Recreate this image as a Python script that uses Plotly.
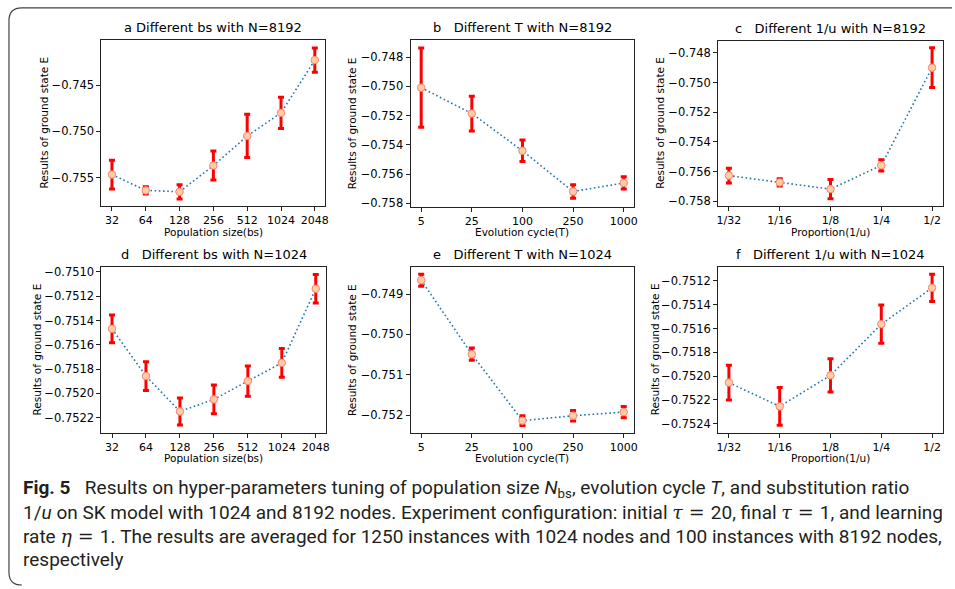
import plotly.graph_objects as go

W, H = 955, 589

# ---------------- data ----------------
bs_labels = ["32", "64", "128", "256", "512", "1024", "2048"]
T_labels = ["5", "25", "100", "250", "1000"]
u_labels = ["1/32", "1/16", "1/8", "1/4", "1/2"]

a_vals = [-0.75468, -0.75639, -0.75654, -0.75371, -0.75050, -0.74800, -0.74229]
a_err = [0.00155, 0.00040, 0.00077, 0.00157, 0.00234, 0.00170, 0.00130]

b_vals = [-0.75009, -0.75186, -0.75441, -0.75720, -0.75661]
b_err = [0.00271, 0.00119, 0.00074, 0.00046, 0.00042]

c_vals = [-0.75627, -0.75673, -0.75718, -0.75558, -0.74900]
c_err = [0.00049, 0.00024, 0.00065, 0.00038, 0.00134]

d_vals = [-0.751468, -0.751857, -0.752148, -0.752049, -0.751898, -0.751748, -0.751138]
d_err = [0.000114, 0.000119, 0.000111, 0.000119, 0.000125, 0.000119, 0.000118]

e_vals = [-0.748656, -0.750492, -0.752139, -0.752016, -0.751926]
e_err = [0.000148, 0.000152, 0.000120, 0.000130, 0.000140]

f_vals = [-0.752055, -0.752255, -0.751994, -0.751564, -0.751258]
f_err = [0.000147, 0.000158, 0.000140, 0.000161, 0.000114]

titles = ["a Different bs with N=8192",
          "b\u00a0\u00a0 Different T with N=8192",
          "c\u00a0\u00a0 Different 1/u with N=8192",
          "d\u00a0\u00a0 Different bs with N=1024",
          "e\u00a0\u00a0 Different T with N=1024",
          "f\u00a0\u00a0 Different 1/u with N=1024"]
xtitles = ["Population size(bs)", "Evolution cycle(T)", "Proportion(1/u)"]
ytitle = "Results of ground state E"

MATH = "<span style=\"font-family:'DejaVu Serif'\">"
caption_lines = [
    "<b>Fig. 5</b>\u2002 Results on hyper-parameters tuning of population size <i>N</i><sub>bs</sub>, evolution cycle <i>T</i>, and substitution ratio",
    "1/<i>u</i> on SK model with 1024 and 8192 nodes. Experiment configuration: initial " + MATH + "<i>\u03c4</i> = </span>20, final " + MATH + "<i>\u03c4</i> = </span>1, and learning",
    "rate " + MATH + "<i>\u03b7</i> = </span>1. The results are averaged for 1250 instances with 1024 nodes and 100 instances with 8192 nodes,",
    "respectively",
]

# ---------------- layout helpers ----------------
def px(x):
    return x / W

def py(y):
    return 1 - y / H

panels = [
    dict(x=bs_labels, y=a_vals, e=a_err, xd=(100, 325), yd=(38, 206), yr=(-0.75807, -0.74007), dt=0.005, fmt=".3f", ylab=42, xt=0),
    dict(x=T_labels, y=b_vals, e=b_err, xd=(410.7, 635.7), yd=(38, 206.7), yr=(-0.75823, -0.7468), dt=0.002, fmt=".3f", ylab=352, xt=1),
    dict(x=u_labels, y=c_vals, e=c_err, xd=(720, 945.7), yd=(39, 206), yr=(-0.75831, -0.74718), dt=0.002, fmt=".3f", ylab=662, xt=2),
    dict(x=bs_labels, y=d_vals, e=d_err, xd=(100, 326), yd=(267.5, 435), yr=(-0.752322, -0.750957), dt=0.0002, fmt=".4f", ylab=35, xt=0),
    dict(x=T_labels, y=e_vals, e=e_err, xd=(410.7, 635.7), yd=(268, 435), yr=(-0.752434, -0.748336), dt=0.001, fmt=".3f", ylab=352, xt=1),
    dict(x=u_labels, y=f_vals, e=f_err, xd=(720, 945.7), yd=(267.5, 435), yr=(-0.752475, -0.751081), dt=0.0002, fmt=".4f", ylab=656, xt=2),
]

fig = go.Figure()
font_main = "DejaVu Sans"
tick_font = dict(family=font_main, size=11, color="#000")
ytick_font = dict(family=font_main, size=11.5, color="#000")
annotations = []

for i, p in enumerate(panels):
    k = "" if i == 0 else str(i + 1)
    n = len(p["x"])
    fig.add_trace(go.Scatter(
        x=p["x"], y=p["y"], xaxis="x" + k, yaxis="y" + k,
        mode="lines+markers",
        line=dict(color="#1f77b4", width=1.6, dash="1.6px,2.6px"),
        marker=dict(size=7.5, color="rgb(255,204,164)", line=dict(color="rgb(245,135,115)", width=1)),
        error_y=dict(type="data", array=p["e"], visible=True, color="#ff0000", thickness=3, width=3),
        showlegend=False, hoverinfo="skip",
    ))
    pad = 0.05 * (n - 1) + 0.01
    fig.layout["xaxis" + k] = dict(
        domain=[px(p["xd"][0]), px(p["xd"][1])], anchor="y" + k,
        type="category", range=[-pad, n - 1 + pad],
        showline=True, mirror=True, linecolor="#222", linewidth=1,
        ticks="outside", ticklen=4, tickcolor="#222", tickfont=tick_font,
        showgrid=False, zeroline=False, fixedrange=True,
    )
    fig.layout["yaxis" + k] = dict(
        domain=[py(p["yd"][1]), py(p["yd"][0])], anchor="x" + k,
        range=list(p["yr"]), dtick=p["dt"], tick0=0, tickformat=p["fmt"],
        showline=True, mirror=True, linecolor="#222", linewidth=1,
        ticks="outside", ticklen=4, tickcolor="#222", tickfont=ytick_font,
        showgrid=False, zeroline=False, fixedrange=True,
    )
    xc = px((p["xd"][0] + p["xd"][1]) / 2)
    annotations.append(dict(text=titles[i], x=xc, y=py(p["yd"][0] - 3), xref="paper", yref="paper",
                            xanchor="center", yanchor="bottom", showarrow=False,
                            font=dict(family=font_main, size=13, color="#000")))
    annotations.append(dict(text=xtitles[p["xt"]], x=xc, y=py(p["yd"][1] + 26), xref="paper", yref="paper",
                            xanchor="center", yanchor="middle", showarrow=False,
                            font=dict(family=font_main, size=10.5, color="#000")))
    annotations.append(dict(text=ytitle, x=px(p["ylab"]), y=py((p["yd"][0] + p["yd"][1]) / 2),
                            xref="paper", yref="paper", xanchor="center", yanchor="middle",
                            textangle=-90, showarrow=False,
                            font=dict(family=font_main, size=10.5, color="#000")))

cap_y = [492, 516, 540, 563]
for line, yy in zip(caption_lines, cap_y):
    annotations.append(dict(text=line, x=px(19), y=py(yy), xref="paper", yref="paper",
                            xanchor="left", yanchor="middle", showarrow=False, align="left",
                            font=dict(family="Roboto, sans-serif", size=19, color="#231f20")))

frame = (f"M {px(955)},{py(6)} L {px(20)},{py(6)} Q {px(7)},{py(6)} {px(7)},{py(19)} "
         f"L {px(7)},{py(576)} Q {px(7)},{py(589)} {px(20)},{py(589)}")

fig.update_layout(
    width=W, height=H, margin=dict(l=0, r=0, t=0, b=0),
    paper_bgcolor="white", plot_bgcolor="white",
    annotations=annotations,
    shapes=[dict(type="path", path=frame, xref="paper", yref="paper",
                 line=dict(color="#444", width=1.2))],
)

fig.write_html("out.html", config={"displayModeBar": False, "staticPlot": True},
               post_script="document.body.style.margin='0';document.body.style.overflow='hidden';")
